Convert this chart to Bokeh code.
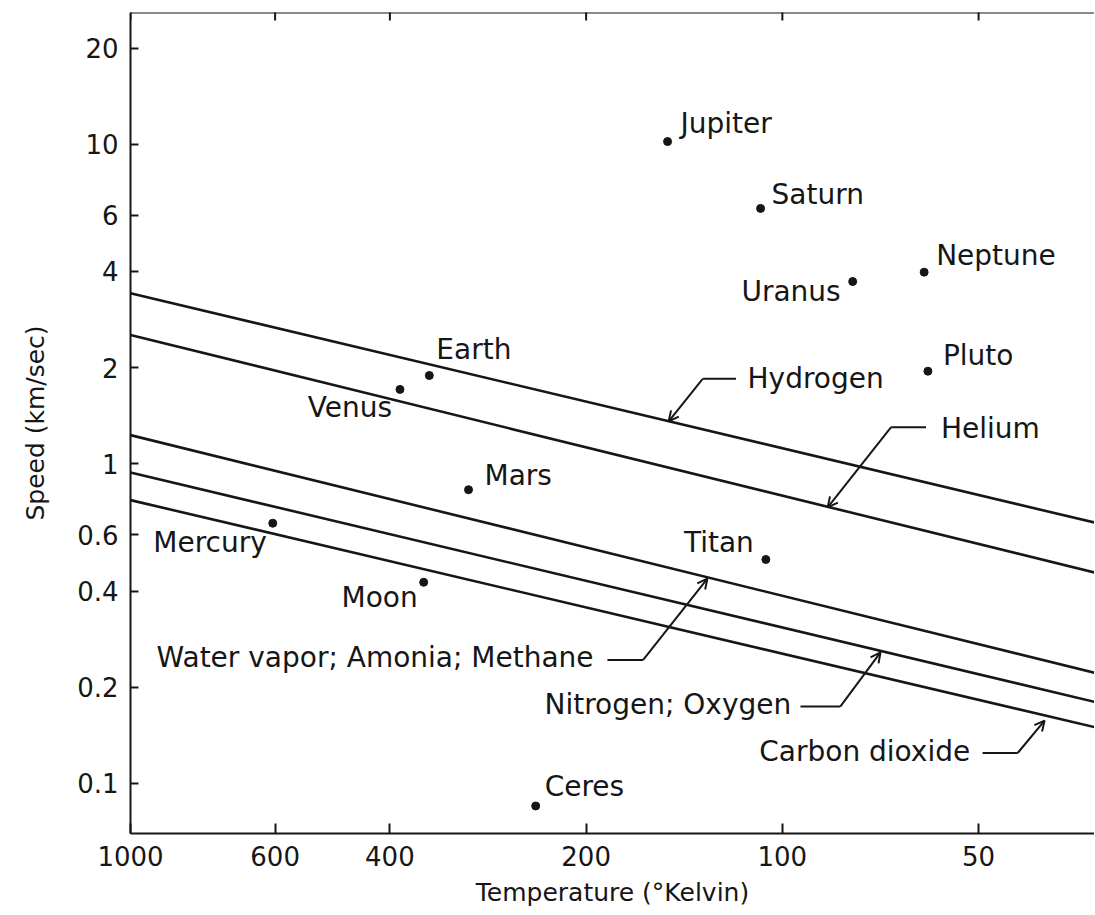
import math
from bokeh.plotting import figure
from bokeh.models import (Range1d, FixedTicker, CustomJSTickFormatter, Span,
                          Arrow, OpenHead, ColumnDataSource)
from bokeh.core.properties import value
from bokeh.embed import file_html
from bokeh.resources import INLINE

FONT = "DejaVu Sans"
INK = "#161616"

# ---------------- data ----------------
x_ticks = [1000, 600, 400, 200, 100, 50]
y_ticks = [0.1, 0.2, 0.4, 0.6, 1, 2, 4, 6, 10, 20]
T_min, T_max = 33.2, 1000
v_min, v_max = 0.0697, 25.85

gas_names = ["Hydrogen", "Helium", "Water vapor; Amonia; Methane",
             "Nitrogen; Oxygen", "Carbon dioxide"]
gas_T = [1000, 33.2]                            # temperature at both ends of each line
gas_v_hot = [3.42, 2.53, 1.23, 0.94, 0.77]      # km/s at 1000 K
gas_v_cold = [0.655, 0.457, 0.222, 0.18, 0.15]  # km/s at 33.2 K

body_names = ["Jupiter", "Saturn", "Uranus", "Neptune", "Pluto", "Earth",
              "Venus", "Mars", "Mercury", "Moon", "Titan", "Ceres"]
body_T = [150, 108, 78, 60.6, 59.8, 348, 386, 303, 605, 355, 106, 239]
body_v = [10.2, 6.3, 3.72, 3.98, 1.95, 1.89, 1.71, 0.83, 0.652, 0.426, 0.502, 0.085]

# ---------------- label placement (styling) ----------------
# (dx, dy in screen px from the dot to the text's middle; dy positive = downward; alignment)
label_place = {
    "Jupiter": (13, -18, "left"), "Saturn": (11, -14, "left"),
    "Uranus": (-12, 10, "right"), "Neptune": (12, -17, "left"),
    "Pluto": (15, -16, "left"), "Earth": (7, -26, "left"),
    "Venus": (-8, 18, "right"), "Mars": (16, -14, "left"),
    "Mercury": (-6, 19, "right"), "Moon": (-6, 15, "right"),
    "Titan": (-12, -17, "right"), "Ceres": (9, -19, "left"),
}

# callout text anchors (left end, middle height) and leader strokes, in (T, v)
gas_label_T = [113.1, 57.1, 912, 231.7, 108.5]
gas_label_v = [1.845, 1.294, 0.248, 0.177, 0.1257]
leader_from_T = [117.8, 60.2, 185.5, 93.8, 49.3]
leader_elbow_T = [132.5, 68.1, 163.5, 81.5, 43.55]
leader_level_v = [1.845, 1.302, 0.2435, 0.174, 0.1245]
leader_tip_T = [149.4, 85.2, 130.3, 70.7, 39.6]
leader_tip_v = [1.359, 0.731, 0.4375, 0.2572, 0.1572]

# ---------------- figure ----------------
p = figure(width=1094, height=914, x_axis_type="log", y_axis_type="log",
           x_range=Range1d(T_max, T_min), y_range=Range1d(v_min, v_max),
           output_backend="svg", toolbar_location=None,
           min_border_left=130, min_border_right=0, min_border_top=12,
           min_border_bottom=81)
p.grid.visible = False
p.outline_line_color = None
p.background_fill_color = "white"
p.border_fill_color = "white"

# axes
p.xaxis.ticker = FixedTicker(ticks=x_ticks, minor_ticks=[])
p.yaxis.ticker = FixedTicker(ticks=y_ticks, minor_ticks=[])
p.xaxis.formatter = CustomJSTickFormatter(code="return String(tick)")
p.yaxis.formatter = CustomJSTickFormatter(code="return String(tick)")
for ax in (p.xaxis[0], p.yaxis[0]):
    ax.axis_line_width = 2
    ax.axis_line_color = INK
    ax.major_tick_line_width = 2
    ax.major_tick_line_color = INK
    ax.major_tick_out = 0
    ax.major_label_text_font = FONT
    ax.major_label_text_font_size = "26px"
    ax.major_label_text_color = INK
    ax.axis_label_text_font = FONT
    ax.axis_label_text_font_style = "normal"
    ax.axis_label_text_font_size = "25px"
    ax.axis_label_text_color = INK
p.xaxis.major_tick_in = 10
p.yaxis.major_tick_in = 8
p.xaxis.major_label_standoff = 12
p.yaxis.major_label_standoff = 12
p.xaxis.axis_label = "Temperature (°Kelvin)"
p.yaxis.axis_label = "Speed (km/sec)"
p.xaxis.axis_label_standoff = 9
p.yaxis.axis_label_standoff = 24

# top border of the frame with inward ticks (the outer half of each dash is clipped)
p.add_layout(Span(location=v_max, dimension="width", line_width=2, line_color=INK))
p.scatter(x_ticks, [v_max] * len(x_ticks), marker="dash", size=16,
          angle=math.pi / 2, line_width=2, line_color=INK)

# gas lines
gas_src = ColumnDataSource(dict(
    xs=[gas_T for _ in gas_names],
    ys=[[h, c] for h, c in zip(gas_v_hot, gas_v_cold)],
))
p.multi_line("xs", "ys", source=gas_src, line_width=2.6, line_color=INK)

# bodies
p.scatter(body_T, body_v, size=8, color=INK)
for align in ("left", "right"):
    idx = [i for i, n in enumerate(body_names) if label_place[n][2] == align]
    src = ColumnDataSource(dict(
        x=[body_T[i] for i in idx], y=[body_v[i] for i in idx],
        t=[body_names[i] for i in idx],
        dx=[label_place[body_names[i]][0] for i in idx],
        dy=[label_place[body_names[i]][1] for i in idx],
    ))
    p.text("x", "y", text="t", x_offset="dx", y_offset="dy", source=src,
           text_align=align, text_baseline="middle",
           text_font=value(FONT), text_font_size="28px", text_color=INK)

# callout labels
p.text(gas_label_T, gas_label_v, text=gas_names, text_align="left",
       text_baseline="middle", text_font=value(FONT),
       text_font_size="28px", text_color=INK)

# leaders
p.multi_line(xs=[[a, b] for a, b in zip(leader_from_T, leader_elbow_T)],
             ys=[[v, v] for v in leader_level_v], line_width=2, line_color=INK)
for i in range(len(gas_names)):
    p.add_layout(Arrow(end=OpenHead(size=10, line_width=2, line_color=INK),
                       x_start=leader_elbow_T[i], y_start=leader_level_v[i],
                       x_end=leader_tip_T[i], y_end=leader_tip_v[i],
                       line_width=2, line_color=INK))

open("out.html", "w").write(file_html(p, INLINE))
